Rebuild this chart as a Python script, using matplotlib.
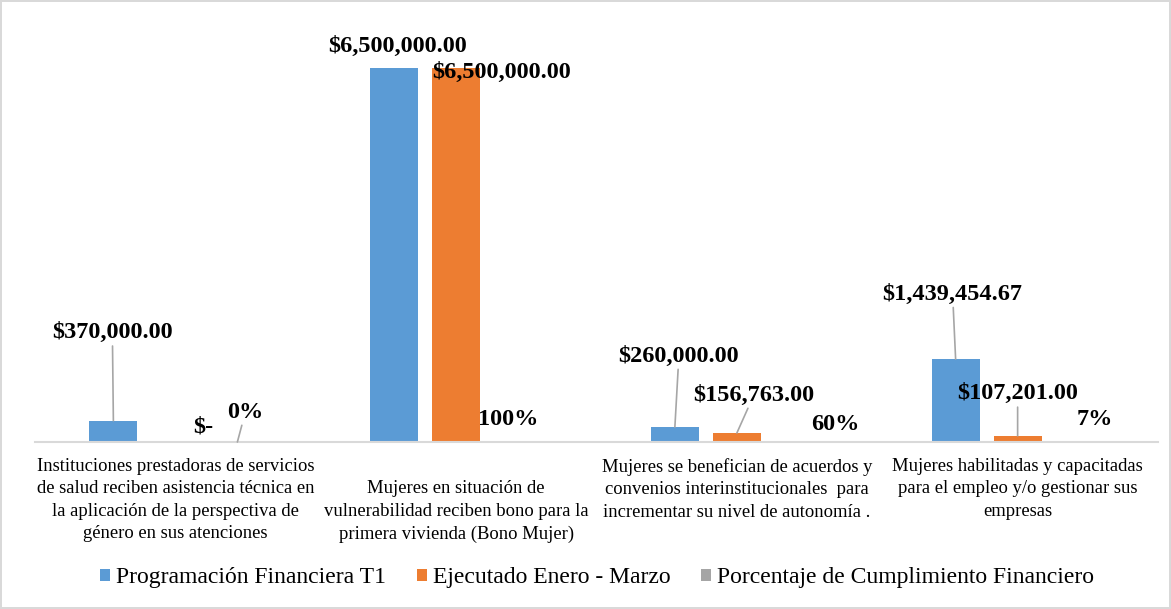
import matplotlib.pyplot as plt
import numpy as np
from matplotlib.patches import Patch

plt.rcParams['font.family'] = ['Liberation Serif', 'DejaVu Serif']

# data
categories = [
    "Instituciones prestadoras de servicios\nde salud reciben asistencia técnica en\nla aplicación de la perspectiva de\ngénero en sus atenciones",
    "\nMujeres en situación de\nvulnerabilidad reciben bono para la\nprimera vivienda (Bono Mujer)",
    "Mujeres se benefician de acuerdos y\nconvenios interinstitucionales  para\nincrementar su nivel de autonomía .",
    "Mujeres habilitadas y capacitadas\npara el empleo y/o gestionar sus\nempresas",
]
programado = [370000.00, 6500000.00, 260000.00, 1439454.67]
ejecutado = [0.00, 6500000.00, 156763.00, 107201.00]
porcentaje = [0.00, 1.00, 0.603, 0.0745]
series_names = ["Programación Financiera T1", "Ejecutado Enero - Marzo",
                "Porcentaje de Cumplimiento Financiero"]
colors = ['#5B9BD5', '#ED7D31', '#A5A5A5']

# label placement (pixel offsets from bar top, leader line on/off)
lbl_prog = [(-1, 88, True), (3, 22, False), (4, 71, True), (-3, 65, True)]
lbl_ejec = [(28, 15, False), (45, -4, False), (17, 38, True), (0, 42, True)]
lbl_pct = [(8, 30, True), (-10, 22, False), (36, 17, False), (15, 22, False)]


def money(v):
    if v == 0:
        return "$-"
    return "${:,.2f}".format(v)


def pct(v):
    return "{:.0f}%".format(v * 100)


fig = plt.figure(figsize=(11.71, 6.09), dpi=100)
fig.patch.set_edgecolor('#D9D9D9')
fig.patch.set_linewidth(1.5)
ax = fig.add_axes([35 / 1171, 167 / 609, 1123 / 1171, 402.8 / 609])

x = np.arange(len(categories))
w = 48 / 280.75
step = 62 / 280.75
allvals = [programado, ejecutado, porcentaje]
alllbl = [lbl_prog, lbl_ejec, lbl_pct]
for k, vals in enumerate(allvals):
    xs = x + (k - 1) * step
    ax.bar(xs, vals, width=w, color=colors[k], label=series_names[k])
    for i, v in enumerate(vals):
        txt = pct(v) if k == 2 else money(v)
        dx, dy, lead = alllbl[k][i]
        ap = dict(arrowstyle='-', color='#A6A6A6', lw=1.2, shrinkA=0, shrinkB=0) if lead else None
        ax.annotate(txt, xy=(xs[i], v), xytext=(dx, dy), textcoords='offset pixels',
                    ha='center', va='center', fontsize=17.5, fontweight='bold',
                    arrowprops=ap)

ax.set_xlim(-0.5, 3.5)
ax.set_ylim(0, 7000000)
for s in ['top', 'right', 'left']:
    ax.spines[s].set_visible(False)
ax.spines['bottom'].set_color('#D9D9D9')
ax.spines['bottom'].set_linewidth(1.5)
ax.set_yticks([])
ax.set_xticks([])

for i, c in enumerate(categories):
    ax.annotate(c, xy=(x[i], 0), xycoords=ax.get_xaxis_transform(),
                xytext=(0, -16), textcoords='offset pixels',
                ha='center', va='top', fontsize=13.4, linespacing=1.42,
                multialignment='center')

handles = [Patch(facecolor=colors[k], edgecolor='none') for k in range(3)]
fig.legend(handles, series_names, loc='center', bbox_to_anchor=(597 / 1171, 1 - 578 / 609),
           ncol=3, frameon=False, fontsize=17, handlelength=0.42, handleheight=0.42,
           handletextpad=0.25, columnspacing=1.3)

fig.savefig('out.png', dpi=100)
